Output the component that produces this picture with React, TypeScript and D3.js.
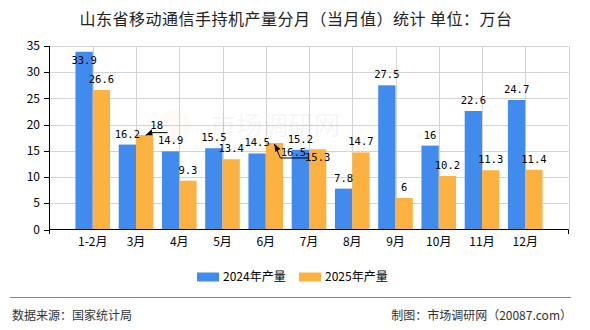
import * as d3 from 'd3'
import React from 'react'

const months = ['1-2月', '3月', '4月', '5月', '6月', '7月', '8月', '9月', '10月', '11月', '12月']
const values2024 = [33.9, 16.2, 14.9, 15.5, 14.5, 15.2, 7.8, 27.5, 16, 22.6, 24.7]
const values2025 = [26.6, 18, 9.3, 13.4, 16.5, 15.3, 14.7, 6, 10.2, 11.3, 11.4]
const series = ['2024年产量', '2025年产量']
const yTicks = [0, 5, 10, 15, 20, 25, 30, 35]

const W = 590, H = 330
const BLUE = '#418AEE', ORANGE = '#FBB240'
const CJK = '"Noto Sans CJK SC", sans-serif'
const MONO = '"DejaVu Sans Mono", "Noto Sans CJK SC", monospace'

// labels that the original chart pushed inside the bar
const inside = new Set(['0-0', '1-5'])

export default function App() {
  const
    x = d3.scaleLinear().domain([0, months.length + 1]).range([49.5, 568.5]),
    y = d3.scaleLinear().domain([0, 35]).range([229.5, 46]),
    step = x(1) - x(0),
    bw = step * 0.4

  const bars = [values2024, values2025].flatMap((vals, s) => vals.map((v, i) => {
    const cx = x(i + 1) + (s === 0 ? -bw / 2 : bw / 2)
    return { s, i, v, cx, top: y(v), key: `${s}-${i}` }
  }))

  const labels = bars.map(b => {
    // collision leaders as in the source picture
    if (b.key === '1-1') {
      const tipX = b.cx + 1, tipY = b.top
      return (
        <g key={b.key}>
          <path d={`M${tipX},${tipY} L${tipX + 5},${tipY - 2.5} L${tipX + 22},${tipY - 2.5}`} fill='none' stroke='#000' strokeWidth={1} />
          <path d={`M${tipX},${tipY} l6,-6 l1,6 z`} fill='#000' />
          <text x={tipX + 11} y={tipY - 6.5} textAnchor='middle' fontFamily={MONO} fontSize={10.5}>{b.v}</text>
        </g>
      )
    }
    if (b.key === '1-4') {
      const tipX = b.cx, tipY = b.top + 1
      return (
        <g key={b.key}>
          <path d={`M${tipX},${tipY} L${tipX + 6},${tipY + 14} L${tipX + 34},${tipY + 14}`} fill='none' stroke='#000' strokeWidth={1} />
          <path d={`M${tipX},${tipY} l1,8 l5,-3 z`} fill='#000' />
          <text x={tipX + 19} y={tipY + 12} textAnchor='middle' fontFamily={MONO} fontSize={10.5}>{b.v}</text>
        </g>
      )
    }
    const ty = inside.has(b.key) ? b.top + 12 : b.top - 7
    return <text key={b.key} x={b.cx} y={ty} textAnchor='middle' fontFamily={MONO} fontSize={10.5}>{b.v}</text>
  })

  return (
    <svg width={W} height={H} style={{ display: 'block', position: 'absolute', left: 0, top: 0 }}>
      <rect width={W} height={H} fill='#fff' />
      <text x={W / 2 + 1} y={25} textAnchor='middle' fontFamily={CJK} fontSize={16} letterSpacing={0.5} fill='#222'>山东省移动通信手持机产量分月（当月值）统计 单位：万台</text>

      <g stroke='#d4d4d4' strokeWidth={1}>
        {yTicks.filter(t => t > 0).map(t => <line key={t} x1={x(0)} x2={x(months.length + 1)} y1={Math.round(y(t)) + 0.5} y2={Math.round(y(t)) + 0.5} />)}
        {d3.range(1, months.length + 2).map(i => <line key={i} x1={Math.round(x(i)) + 0.5} x2={Math.round(x(i)) + 0.5} y1={y(35)} y2={y(0)} />)}
      </g>

      <text x={275} y={135} textAnchor='middle' fontFamily={CJK} fontSize={26} fill='#000' opacity={0.03}>市场调研网</text>
      <circle cx={175} cy={126} r={16} fill='#f3a04a' opacity={0.05} />

      {bars.map(b => (
        <rect key={b.key} x={b.cx - bw / 2} y={b.top} width={bw} height={y(0) - b.top} fill={b.s === 0 ? BLUE : ORANGE} />
      ))}

      <g stroke='#000' strokeWidth={1}>
        <line x1={49.5} x2={49.5} y1={y(35)} y2={y(0)} />
        <line x1={49} x2={x(months.length + 1)} y1={229.5} y2={229.5} />
        <line x1={49.5} x2={49.5} y1={229.5} y2={234} />
        <line x1={568.5} x2={568.5} y1={229.5} y2={234} />
        {yTicks.map(t => <line key={t} x1={44} x2={49.5} y1={Math.round(y(t)) + 0.5} y2={Math.round(y(t)) + 0.5} />)}
      </g>
      {yTicks.map(t => (
        <text key={t} x={40} y={y(t)} dy='0.35em' textAnchor='end' fontFamily={CJK} fontSize={12}>{t}</text>
      ))}
      {months.map((m, i) => (
        <text key={m} x={x(i + 1)} y={246} textAnchor='middle' fontFamily={CJK} fontSize={12}>{m}</text>
      ))}

      {labels}

      {series.map((s, k) => (
        <g key={s} transform={`translate(${k === 0 ? 197 : 299},272.5)`}>
          <rect width={22} height={9} fill={k === 0 ? BLUE : ORANGE} />
          <text x={26} y={4.5} dy='0.35em' fontFamily={CJK} fontSize={12}>{s}</text>
        </g>
      ))}

      <line x1={10} x2={571} y1={297.5} y2={297.5} stroke='#888' strokeWidth={1} />
      <text x={12} y={316} dy='0.35em' fontFamily={CJK} fontSize={12} fill='#333'>数据来源：国家统计局</text>
      <text x={572} y={316} dy='0.35em' textAnchor='end' fontFamily={CJK} fontSize={12} fill='#333'>制图：市场调研网（20087.com）</text>
    </svg>
  )
}
